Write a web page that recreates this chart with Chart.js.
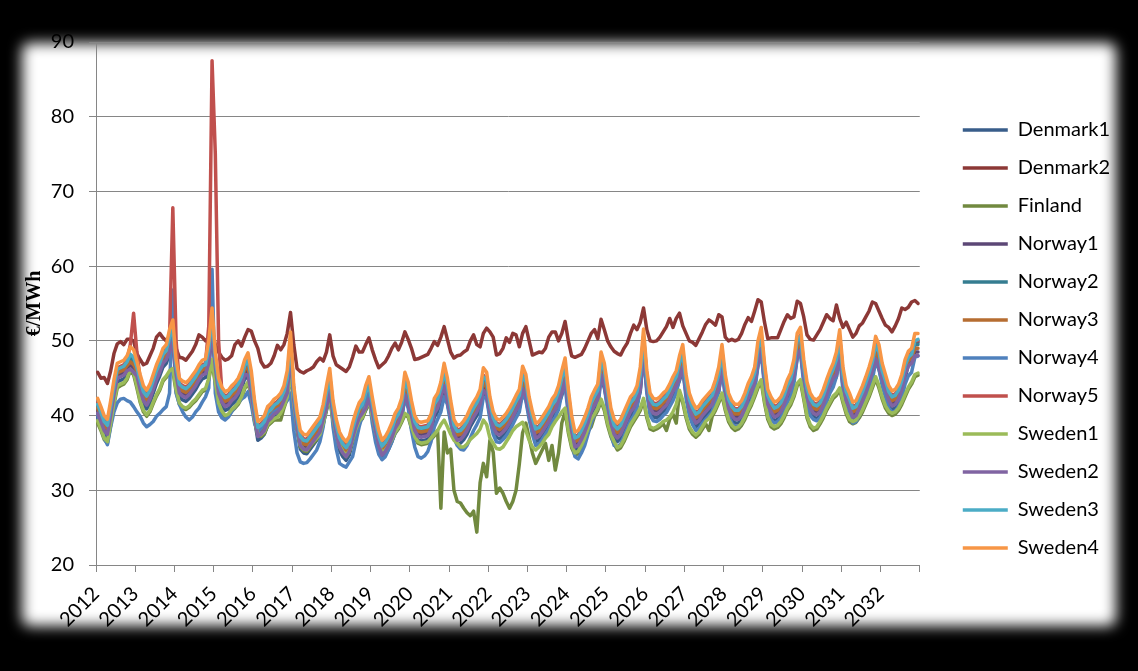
<!DOCTYPE html>
<html>
<head>
<meta charset="utf-8">
<script src="https://cdn.jsdelivr.net/npm/chart.js@4/dist/chart.umd.min.js"></script>
<style>
html,body{margin:0;padding:0;background:#000;overflow:hidden}
#wrap{position:relative;width:1138px;height:671px}
#frame{position:absolute;left:22px;top:43px;width:1094px;height:583px;background:#fff;filter:blur(7px);border-radius:8px}
#c{position:absolute;left:0;top:0}
</style>
</head>
<body>
<div id="wrap"><div id="frame"></div><canvas id="c" width="1138" height="671"></canvas></div>
<script>
const yearLabels = ['2012','2013','2014','2015','2016','2017','2018','2019','2020','2021','2022',
  '2023','2024','2025','2026','2027','2028','2029','2030','2031','2032'];

const seriesNames = ['Denmark1','Denmark2','Finland','Norway1','Norway2','Norway3',
  'Norway4','Norway5','Sweden1','Sweden2','Sweden3','Sweden4'];

const seriesColors = ['#385D8A','#8C3836','#71893F','#5C4776','#357D91','#B66D31',
  '#4F81BD','#C0504D','#9BBB59','#8064A2','#4BACC6','#F79646'];

// monthly prices, Jan 2012 - Dec 2032, one row per year
const denmark1 = [
39.8,38.7,37.5,37.0,39.5,42.3,44.5,44.7,44.9,45.5,45.9,45.5,
44.8,43.0,41.5,40.9,41.7,43.0,44.3,45.3,46.5,47.0,48.2,49.5,
45.0,42.5,42.1,41.9,42.3,42.9,43.5,44.3,44.9,45.1,46.7,51.1,
46.0,42.5,41.3,40.7,40.9,41.5,41.9,42.5,43.5,45.0,45.1,42.7,
39.5,36.7,37.0,37.5,38.7,39.1,39.7,40.0,40.5,41.5,42.7,47.9,
41.5,38.0,35.5,35.0,34.9,35.5,36.1,36.7,37.3,39.0,40.7,43.0,
39.5,37.0,35.3,34.5,34.0,34.7,36.5,38.0,39.2,39.8,40.7,41.9,
40.0,37.5,35.5,34.2,34.7,35.5,36.5,37.8,38.5,39.8,42.5,41.2,
39.5,37.5,36.7,36.6,36.7,36.8,37.7,39.8,40.5,42.0,43.7,41.7,
39.5,37.0,36.2,36.3,36.8,37.5,38.5,39.3,40.0,41.0,43.1,42.5,
40.0,38.0,37.1,36.9,37.3,37.8,38.5,39.3,40.2,41.0,43.3,42.2,
40.0,38.0,36.5,36.7,37.3,38.0,38.7,39.7,40.3,41.5,42.7,44.4,
41.0,37.5,35.3,35.5,36.3,37.3,38.5,40.0,40.9,41.7,45.2,43.7,
41.5,38.5,37.0,36.5,37.0,38.0,39.0,40.0,40.5,41.5,43.2,48.3,
43.5,40.5,39.8,39.7,40.0,40.5,40.9,41.7,42.7,43.5,44.7,46.2,
43.0,40.5,39.3,38.5,38.8,39.5,40.0,40.5,41.0,42.3,43.2,46.2,
43.0,40.5,39.5,39.0,39.0,39.5,40.5,41.8,42.7,44.0,46.7,48.5,
44.5,41.0,40.0,39.3,39.5,40.0,41.0,42.3,43.2,45.0,47.7,48.5,
45.0,42.0,40.5,39.8,39.6,40.0,41.0,42.3,43.5,44.5,45.2,48.2,
44.0,41.5,40.5,39.3,39.5,40.5,41.5,42.7,44.0,45.5,47.3,46.2,
44.5,43.0,41.5,40.8,41.0,41.7,43.0,45.0,46.8,47.5,49.5,49.8
];

const denmark2 = [
45.8,45.0,45.1,44.3,46.0,48.3,49.6,49.9,49.5,50.2,50.2,50.0,
48.3,47.5,46.8,47.0,48.0,49.0,50.5,51.0,50.4,50.0,50.5,51.5,
49.0,47.8,47.7,47.4,48.0,48.6,49.5,50.8,50.5,50.0,50.5,51.5,
49.5,48.5,47.8,47.4,47.6,48.0,49.5,50.0,49.3,50.5,51.5,51.3,
50.0,49.0,47.2,46.5,46.6,47.0,48.0,49.4,48.8,49.5,51.0,53.8,
49.5,46.3,45.9,45.7,46.0,46.2,46.5,47.2,47.7,47.3,48.5,50.8,
48.0,46.8,46.5,46.2,45.9,46.5,47.8,49.3,48.5,48.5,49.5,50.4,
48.8,47.5,46.4,46.8,47.2,48.0,49.0,49.7,48.8,49.8,51.2,50.2,
49.0,47.5,47.6,47.8,48.0,48.2,49.0,49.9,49.4,50.5,51.9,50.2,
48.5,47.7,48.0,48.1,48.5,48.8,50.0,50.8,49.5,49.2,51.0,51.7,
51.2,50.5,48.1,48.3,49.0,50.4,49.8,51.0,50.8,49.2,51.0,51.9,
50.0,48.1,48.3,48.5,48.4,49.0,50.5,51.2,51.2,50.0,51.0,52.6,
50.0,48.0,47.8,48.0,48.2,49.0,50.0,51.0,51.5,50.3,52.9,51.5,
50.0,49.2,48.6,48.3,48.1,49.0,49.7,51.0,52.1,51.5,52.5,54.4,
51.5,50.0,49.9,50.0,50.5,51.2,51.9,53.0,51.8,53.0,53.7,52.0,
51.0,50.0,49.8,49.4,50.3,51.2,52.2,52.8,52.5,52.1,53.5,53.2,
50.5,50.0,50.2,50.0,50.2,51.0,52.2,53.1,52.6,54.0,55.5,55.2,
52.5,50.3,50.4,50.4,50.4,51.5,52.6,53.5,53.0,53.2,55.3,55.0,
53.2,50.8,50.2,50.1,50.8,51.5,52.5,53.5,53.0,52.7,54.8,53.0,
51.8,52.5,51.5,50.5,51.0,52.0,52.4,53.2,54.0,55.2,55.0,54.0,
53.0,52.1,51.8,51.2,52.0,53.0,54.4,54.2,54.5,55.2,55.4,55.0
];

const finland = [
39.0,38.0,36.8,36.3,38.7,41.5,43.7,44.0,44.2,44.8,46.0,45.5,
43.7,41.8,40.5,39.9,40.5,41.6,42.6,43.4,44.6,45.1,45.8,46.0,
43.2,41.5,41.0,40.8,41.1,41.6,42.0,42.6,43.2,43.4,44.8,47.2,
44.2,41.5,40.4,39.8,40.0,40.6,41.0,41.5,42.3,43.6,44.3,42.8,
39.3,37.3,37.2,37.6,38.6,39.0,39.4,39.4,39.4,41.0,42.3,45.8,
41.3,38.3,35.8,35.3,35.2,35.8,36.3,36.8,37.3,38.8,40.8,42.3,
39.3,37.3,35.8,35.0,34.5,35.1,36.6,38.0,39.1,39.6,40.8,41.8,
39.8,37.8,36.0,34.8,35.2,35.8,36.6,37.6,38.2,39.1,40.1,39.8,
38.3,37.0,36.3,36.1,36.2,36.3,36.8,37.3,38.0,27.6,37.8,35.0,
35.5,30.0,28.5,28.3,27.6,27.0,26.6,27.2,24.4,31.0,33.6,31.8,
36.7,35.1,29.6,30.3,29.6,28.5,27.6,28.5,30.0,33.5,37.7,39.0,
37.0,35.0,33.6,34.5,35.4,36.3,34.0,36.0,32.7,35.0,39.0,40.5,
37.7,35.7,34.7,34.9,35.7,36.7,37.9,38.5,39.9,40.7,41.9,40.7,
38.7,37.2,36.2,35.4,35.7,36.5,37.5,38.5,39.2,39.9,40.7,42.0,
39.7,38.2,38.0,38.2,38.5,38.9,38.0,39.5,40.2,39.0,43.1,41.7,
39.7,38.2,37.5,37.1,37.5,38.2,38.9,38.0,39.9,40.7,41.7,42.7,
40.7,39.2,38.4,38.0,38.2,38.7,39.5,40.5,41.4,42.5,43.7,44.5,
41.7,39.5,38.5,38.2,38.4,38.9,39.7,40.7,41.4,42.5,44.0,44.5,
42.2,39.7,38.5,38.0,38.2,38.9,39.7,40.7,41.5,42.3,42.7,43.4,
41.7,40.2,39.2,38.9,39.1,39.7,40.5,41.5,42.5,43.7,44.9,43.7,
42.2,41.0,40.3,40.0,40.2,40.7,41.5,42.5,43.5,44.2,45.2,45.4
];

const norway1 = [
40.7,39.6,38.4,37.9,40.4,43.2,45.4,45.6,45.8,46.4,46.7,46.3,
45.7,43.9,42.4,41.8,42.6,43.9,45.2,46.2,47.4,47.9,49.0,50.3,
45.9,43.4,43.0,42.8,43.2,43.8,44.4,45.2,45.8,46.0,47.5,51.9,
46.9,43.4,42.2,41.6,41.8,42.4,42.8,43.4,44.4,45.9,45.9,43.5,
40.4,37.6,37.9,38.4,39.6,40.0,40.6,40.9,41.4,42.4,43.5,48.7,
42.4,38.9,36.4,35.9,35.8,36.4,37.0,37.6,38.2,39.9,41.5,43.8,
40.4,37.9,36.2,35.4,34.9,35.6,37.4,38.9,40.1,40.7,41.5,42.7,
40.9,38.4,36.4,35.1,35.6,36.4,37.4,38.7,39.4,40.7,43.3,42.0,
40.4,38.4,37.6,37.5,37.6,37.7,38.6,40.7,41.4,42.9,44.5,42.5,
40.4,37.9,37.1,37.2,37.7,38.4,39.4,40.2,40.9,41.9,43.9,43.3,
40.9,38.9,38.0,37.8,38.2,38.7,39.4,40.2,41.1,41.9,44.1,43.0,
40.9,38.9,37.4,37.6,38.2,38.9,39.6,40.6,41.2,42.4,43.5,45.2,
41.9,38.4,36.2,36.4,37.2,38.2,39.4,40.9,41.8,42.6,46.0,44.5,
42.4,39.4,37.9,37.4,37.9,38.9,39.9,40.9,41.4,42.4,44.0,49.1,
44.4,41.4,40.7,40.6,40.9,41.4,41.8,42.6,43.6,44.4,45.5,47.0,
43.9,41.4,40.2,39.4,39.7,40.4,40.9,41.4,41.9,43.2,44.0,47.0,
43.9,41.4,40.4,39.9,39.9,40.4,41.4,42.7,43.6,44.9,47.5,49.3,
45.4,41.9,40.9,40.2,40.4,40.9,41.9,43.2,44.1,45.9,48.5,49.3,
45.9,42.9,41.4,40.7,40.5,40.9,41.9,43.2,44.4,45.4,46.0,49.0,
44.9,42.4,41.4,40.2,40.4,41.4,42.4,43.6,44.9,46.4,48.1,47.0,
45.4,43.9,42.4,41.7,41.9,42.6,43.9,45.9,47.0,47.4,48.5,48.5
];

const norway2 = [
41.3,40.2,39.0,38.5,41.0,43.8,46.0,46.2,46.4,47.0,47.7,47.3,
46.3,44.5,43.0,42.4,43.2,44.5,45.8,46.8,48.0,48.5,50.0,51.3,
46.5,44.0,43.6,43.4,43.8,44.4,45.0,45.8,46.4,46.6,48.5,52.9,
47.5,44.0,42.8,42.2,42.4,43.0,43.4,44.0,45.0,46.5,46.9,44.5,
41.0,38.2,38.5,39.0,40.2,40.6,41.2,41.5,42.0,43.0,44.5,49.7,
43.0,39.5,37.0,36.5,36.4,37.0,37.6,38.2,38.8,40.5,42.5,44.8,
41.0,38.5,36.8,36.0,35.5,36.2,38.0,39.5,40.7,41.3,42.5,43.7,
41.5,39.0,37.0,35.7,36.2,37.0,38.0,39.3,40.0,41.3,44.3,43.0,
41.0,39.0,38.2,38.1,38.2,38.3,39.2,41.3,42.0,43.5,45.5,43.5,
41.0,38.5,37.7,37.8,38.3,39.0,40.0,40.8,41.5,42.5,44.9,44.3,
41.5,39.5,38.6,38.4,38.8,39.3,40.0,40.8,41.7,42.5,45.1,44.0,
41.5,39.5,38.0,38.2,38.8,39.5,40.2,41.2,41.8,43.0,44.5,46.2,
42.5,39.0,36.8,37.0,37.8,38.8,40.0,41.5,42.4,43.2,47.0,45.5,
43.0,40.0,38.5,38.0,38.5,39.5,40.5,41.5,42.0,43.0,45.0,50.1,
45.0,42.0,41.3,41.2,41.5,42.0,42.4,43.2,44.2,45.0,46.5,48.0,
44.5,42.0,40.8,40.0,40.3,41.0,41.5,42.0,42.5,43.8,45.0,48.0,
44.5,42.0,41.0,40.5,40.5,41.0,42.0,43.3,44.2,45.5,48.5,50.3,
46.0,42.5,41.5,40.8,41.0,41.5,42.5,43.8,44.7,46.5,49.5,50.3,
46.5,43.5,42.0,41.3,41.1,41.5,42.5,43.8,45.0,46.0,47.0,50.0,
45.5,43.0,42.0,40.8,41.0,42.0,43.0,44.2,45.5,47.0,49.1,48.0,
46.0,44.5,43.0,42.3,42.5,43.2,44.5,46.5,47.6,48.0,49.5,49.5
];

const norway3 = [
41.0,39.9,38.7,38.2,40.7,43.5,45.7,45.9,46.1,46.7,47.2,46.8,
46.0,44.2,42.7,42.1,42.9,44.2,45.5,46.5,47.7,48.2,49.5,50.8,
46.2,43.7,43.3,43.1,43.5,44.1,44.7,45.5,46.1,46.3,48.0,52.4,
47.2,43.7,42.5,41.9,42.1,42.7,43.1,43.7,44.7,46.2,46.4,44.0,
40.7,37.9,38.2,38.7,39.9,40.3,40.9,41.2,41.7,42.7,44.0,49.2,
42.7,39.2,36.7,36.2,36.1,36.7,37.3,37.9,38.5,40.2,42.0,44.3,
40.7,38.2,36.5,35.7,35.2,35.9,37.7,39.2,40.4,41.0,42.0,43.2,
41.2,38.7,36.7,35.4,35.9,36.7,37.7,39.0,39.7,41.0,43.8,42.5,
40.7,38.7,37.9,37.8,37.9,38.0,38.9,41.0,41.7,43.2,45.0,43.0,
40.7,38.2,37.4,37.5,38.0,38.7,39.7,40.5,41.2,42.2,44.4,43.8,
41.2,39.2,38.3,38.1,38.5,39.0,39.7,40.5,41.4,42.2,44.6,43.5,
41.2,39.2,37.7,37.9,38.5,39.2,39.9,40.9,41.5,42.7,44.0,45.7,
42.2,38.7,36.5,36.7,37.5,38.5,39.7,41.2,42.1,42.9,46.5,45.0,
42.7,39.7,38.2,37.7,38.2,39.2,40.2,41.2,41.7,42.7,44.5,49.6,
44.7,41.7,41.0,40.9,41.2,41.7,42.1,42.9,43.9,44.7,46.0,47.5,
44.2,41.7,40.5,39.7,40.0,40.7,41.2,41.7,42.2,43.5,44.5,47.5,
44.2,41.7,40.7,40.2,40.2,40.7,41.7,43.0,43.9,45.2,48.0,49.8,
45.7,42.2,41.2,40.5,40.7,41.2,42.2,43.5,44.4,46.2,49.0,49.8,
46.2,43.2,41.7,41.0,40.8,41.2,42.2,43.5,44.7,45.7,46.5,49.5,
45.2,42.7,41.7,40.5,40.7,41.7,42.7,43.9,45.2,46.7,48.6,47.5,
45.7,44.2,42.7,42.0,42.2,42.9,44.2,46.2,47.3,47.7,49.0,49.0
];

const norway4 = [
40.1,38.5,37.0,36.1,38.5,40.5,41.7,42.2,42.3,42.0,41.8,41.2,
40.5,39.9,39.0,38.5,38.8,39.2,39.9,40.3,40.8,41.2,43.0,56.8,
43.0,41.5,40.5,39.8,39.4,39.8,40.5,41.0,41.8,42.5,43.7,59.6,
43.0,40.5,39.7,39.4,39.8,40.5,41.2,41.8,42.2,42.5,43.2,41.5,
39.0,37.8,38.3,39.0,39.5,40.0,40.5,40.8,41.0,41.5,42.0,43.0,
38.0,35.0,33.8,33.6,33.7,34.2,34.8,35.4,36.5,38.5,41.5,43.9,
38.5,35.5,33.6,33.3,33.1,33.8,34.5,36.5,38.5,40.0,42.0,43.0,
39.0,36.5,34.8,34.1,34.5,35.5,36.5,37.7,38.5,39.5,42.5,41.0,
38.0,35.8,34.5,34.3,34.6,35.2,36.5,38.5,39.5,40.5,42.5,41.5,
39.0,37.0,36.0,35.5,35.4,36.0,37.0,38.0,38.8,39.7,42.5,42.3,
39.5,37.5,36.5,36.4,36.8,37.3,38.0,38.8,39.7,40.5,43.0,42.0,
39.5,37.5,36.0,36.2,36.8,37.5,38.2,39.2,39.8,40.8,43.0,44.0,
40.0,36.5,34.5,34.2,35.0,36.0,37.5,39.0,40.2,41.0,45.0,44.0,
40.5,37.5,36.0,35.8,36.2,37.2,38.3,39.3,40.0,41.0,43.5,48.3,
43.0,40.0,39.3,39.2,39.5,40.0,40.4,41.2,42.0,43.0,45.0,46.3,
42.3,40.0,38.8,38.0,38.3,39.0,39.5,40.0,40.5,41.8,43.3,46.3,
42.3,40.0,39.0,38.5,38.5,39.0,40.0,41.3,42.0,43.3,46.7,48.5,
43.8,40.5,39.5,39.0,39.2,39.7,40.5,41.8,42.5,44.3,47.7,48.5,
44.2,41.5,40.0,39.5,39.3,39.7,40.5,41.8,43.0,43.8,45.2,48.0,
43.3,41.0,40.0,39.0,39.2,40.0,41.0,42.2,43.5,44.8,47.2,46.3,
44.0,42.5,41.0,40.5,40.6,41.2,42.3,44.2,45.3,45.8,47.8,48.0
];

const norway5 = [
41.7,40.6,39.4,38.9,41.4,44.2,46.4,46.6,46.8,47.4,49.5,53.7,
48.5,44.9,43.4,42.8,43.6,44.9,46.2,47.2,48.4,48.9,50.5,67.8,
50.0,44.4,44.0,43.8,44.2,44.8,45.4,46.2,46.8,47.0,52.0,87.5,
75.0,50.0,43.2,42.6,42.8,43.4,43.8,44.4,45.4,46.9,47.4,45.0,
41.4,38.6,38.9,39.4,40.6,41.0,41.6,41.9,42.4,43.4,45.0,50.2,
43.4,39.9,37.4,36.9,36.8,37.4,38.0,38.6,39.2,40.9,43.0,45.3,
41.4,38.9,37.2,36.4,35.9,36.6,38.4,39.9,41.1,41.7,43.0,44.2,
41.9,39.4,37.4,36.1,36.6,37.4,38.4,39.7,40.4,41.7,44.8,43.5,
41.4,39.4,38.6,38.5,38.6,38.7,39.6,41.7,42.4,43.9,46.0,44.0,
41.4,38.9,38.1,38.2,38.7,39.4,40.4,41.2,41.9,42.9,45.4,44.8,
41.9,39.9,39.0,38.8,39.2,39.7,40.4,41.2,42.1,42.9,45.6,44.5,
41.9,39.9,38.4,38.6,39.2,39.9,40.6,41.6,42.2,43.4,45.0,46.7,
42.9,39.4,37.2,37.4,38.2,39.2,40.4,41.9,42.8,43.6,47.5,46.0,
43.4,40.4,38.9,38.4,38.9,39.9,40.9,41.9,42.4,43.4,45.5,50.6,
45.4,42.4,41.7,41.6,41.9,42.4,42.8,43.6,44.6,45.4,47.0,48.5,
44.9,42.4,41.2,40.4,40.7,41.4,41.9,42.4,42.9,44.2,45.5,48.5,
44.9,42.4,41.4,40.9,40.9,41.4,42.4,43.7,44.6,45.9,49.0,50.8,
46.4,42.9,41.9,41.2,41.4,41.9,42.9,44.2,45.1,46.9,50.0,50.8,
46.9,43.9,42.4,41.7,41.5,41.9,42.9,44.2,45.4,46.4,47.5,50.5,
45.9,43.4,42.4,41.2,41.4,42.4,43.4,44.6,45.9,47.4,49.6,48.5,
46.4,44.9,43.4,42.7,42.9,43.6,44.9,46.9,48.0,48.4,50.0,50.0
];

const sweden1 = [
39.3,38.2,37.0,36.5,39.0,41.8,44.0,44.2,44.4,45.0,46.2,45.8,
44.0,42.0,40.7,40.1,40.7,41.8,42.8,43.6,44.8,45.3,46.0,46.3,
43.5,41.7,41.2,41.0,41.3,41.8,42.2,42.8,43.4,43.6,45.0,47.5,
44.5,41.7,40.6,40.0,40.2,40.8,41.2,41.7,42.5,43.8,44.5,43.0,
39.5,37.5,37.4,37.8,38.8,39.2,39.6,39.8,40.3,41.2,42.5,46.0,
41.5,38.5,36.0,35.5,35.4,36.0,36.5,37.0,37.5,39.0,41.0,42.5,
39.5,37.5,36.0,35.2,34.7,35.3,36.8,38.2,39.3,39.8,41.0,42.0,
40.0,38.0,36.2,35.0,35.4,36.0,36.8,37.8,38.4,39.3,40.3,40.0,
38.5,37.2,36.5,36.3,36.4,36.5,37.0,37.5,38.0,38.8,39.4,38.5,
37.5,36.7,36.3,35.8,35.8,36.2,36.8,37.2,37.6,38.2,39.4,38.8,
37.0,36.3,35.6,35.5,35.8,36.5,37.2,38.0,38.5,38.8,39.1,38.0,
36.7,35.8,35.4,35.8,36.3,37.0,37.5,38.5,39.2,39.8,40.5,41.0,
38.0,36.0,35.0,35.2,36.0,37.0,38.2,39.5,40.2,41.0,42.2,41.0,
39.0,37.5,36.5,35.7,36.0,36.8,37.8,38.8,39.5,40.2,41.0,42.3,
40.0,38.5,38.3,38.5,38.8,39.2,39.4,39.8,40.5,41.5,43.4,42.0,
40.0,38.5,37.8,37.4,37.8,38.5,39.2,39.6,40.2,41.0,42.0,43.0,
41.0,39.5,38.7,38.3,38.5,39.0,39.8,40.8,41.7,42.8,44.0,44.8,
42.0,39.8,38.8,38.5,38.7,39.2,40.0,41.0,41.7,42.8,44.3,44.8,
42.5,40.0,38.8,38.3,38.5,39.2,40.0,41.0,41.8,42.6,43.0,43.7,
42.0,40.5,39.5,39.2,39.4,40.0,40.8,41.8,42.8,44.0,45.2,44.0,
42.5,41.3,40.6,40.3,40.5,41.0,41.8,42.8,43.8,44.5,45.5,45.7
];

const sweden2 = [
40.3,39.2,38.0,37.5,40.0,42.8,45.0,45.2,45.4,46.0,46.2,45.8,
45.3,43.5,42.0,41.4,42.2,43.5,44.8,45.8,47.0,47.5,48.5,49.8,
45.5,43.0,42.6,42.4,42.8,43.4,44.0,44.8,45.4,45.6,47.0,51.4,
46.5,43.0,41.8,41.2,41.4,42.0,42.4,43.0,44.0,45.5,45.4,43.0,
40.0,37.2,37.5,38.0,39.2,39.6,40.2,40.5,41.0,42.0,43.0,48.2,
42.0,38.5,36.0,35.5,35.4,36.0,36.6,37.2,37.8,39.5,41.0,43.3,
40.0,37.5,35.8,35.0,34.5,35.2,37.0,38.5,39.7,40.3,41.0,42.2,
40.5,38.0,36.0,34.7,35.2,36.0,37.0,38.3,39.0,40.3,42.8,41.5,
40.0,38.0,37.2,37.1,37.2,37.3,38.2,40.3,41.0,42.5,44.0,42.0,
40.0,37.5,36.7,36.8,37.3,38.0,39.0,39.8,40.5,41.5,43.4,42.8,
40.5,38.5,37.6,37.4,37.8,38.3,39.0,39.8,40.7,41.5,43.6,42.5,
40.5,38.5,37.0,37.2,37.8,38.5,39.2,40.2,40.8,42.0,43.0,44.7,
41.5,38.0,35.8,36.0,36.8,37.8,39.0,40.5,41.4,42.2,45.5,44.0,
42.0,39.0,37.5,37.0,37.5,38.5,39.5,40.5,41.0,42.0,43.5,48.6,
44.0,41.0,40.3,40.2,40.5,41.0,41.4,42.2,43.2,44.0,45.0,46.5,
43.5,41.0,39.8,39.0,39.3,40.0,40.5,41.0,41.5,42.8,43.5,46.5,
43.5,41.0,40.0,39.5,39.5,40.0,41.0,42.3,43.2,44.5,47.0,48.8,
45.0,41.5,40.5,39.8,40.0,40.5,41.5,42.8,43.7,45.5,48.0,48.8,
45.5,42.5,41.0,40.3,40.1,40.5,41.5,42.8,44.0,45.0,45.5,48.5,
44.5,42.0,41.0,39.8,40.0,41.0,42.0,43.2,44.5,46.0,47.6,46.5,
45.0,43.5,42.0,41.3,41.5,42.2,43.5,45.5,46.6,47.0,48.0,48.0
];

const sweden3 = [
41.5,40.4,39.2,38.7,41.2,44.0,46.2,46.4,46.6,47.2,48.2,47.8,
46.5,44.7,43.2,42.6,43.4,44.7,46.0,47.0,48.2,48.7,50.5,51.6,
46.7,44.2,43.8,43.6,44.0,44.6,45.2,46.0,46.6,46.8,49.0,53.2,
47.7,44.2,43.0,42.4,42.6,43.2,43.6,44.2,45.2,46.7,47.4,45.2,
41.2,38.4,38.7,39.2,40.4,40.8,41.4,41.7,42.2,43.2,45.0,50.0,
43.2,39.7,37.2,36.7,36.6,37.2,37.8,38.4,39.0,40.7,43.0,45.1,
41.2,38.7,37.0,36.2,35.7,36.4,38.2,39.7,40.9,41.5,43.0,44.0,
41.7,39.2,37.2,35.9,36.4,37.2,38.2,39.5,40.2,41.5,44.6,43.5,
41.2,39.2,38.4,38.3,38.4,38.5,39.4,41.5,42.2,43.7,45.8,44.0,
41.2,38.7,37.9,38.0,38.5,39.2,40.2,41.0,41.7,42.7,45.2,44.8,
41.7,39.7,38.8,38.6,39.0,39.5,40.2,41.0,41.9,42.7,45.4,44.5,
41.7,39.7,38.2,38.4,39.0,39.7,40.4,41.4,42.0,43.2,45.0,46.5,
42.7,39.2,37.0,37.2,38.0,39.0,40.2,41.7,42.6,43.4,47.3,46.0,
43.2,40.2,38.7,38.2,38.7,39.7,40.7,41.7,42.2,43.2,45.5,50.4,
45.0,42.2,41.5,41.4,41.7,42.2,42.6,43.4,44.4,45.2,47.0,48.3,
44.5,42.2,41.0,40.2,40.5,41.2,41.7,42.2,42.7,44.0,45.5,48.3,
44.5,42.2,41.2,40.7,40.7,41.2,42.2,43.5,44.4,45.7,49.0,50.6,
46.0,42.7,41.7,41.0,41.2,41.7,42.7,44.0,44.9,46.7,50.0,50.6,
46.5,43.7,42.2,41.5,41.3,41.7,42.7,44.0,45.2,46.2,47.5,50.3,
45.5,43.2,42.2,41.0,41.2,42.2,43.2,44.4,45.7,47.2,49.4,48.5,
46.0,44.7,43.2,42.5,42.7,43.4,44.7,46.7,47.8,48.2,50.0,50.2
];

const sweden4 = [
42.3,41.2,40.0,39.5,42.0,44.8,47.0,47.2,47.4,48.0,49.2,48.8,
47.3,45.5,44.0,43.4,44.2,45.5,46.8,47.8,49.0,49.5,51.5,52.8,
47.5,45.0,44.6,44.4,44.8,45.4,46.0,46.8,47.4,47.6,50.0,54.4,
48.5,45.0,43.8,43.2,43.4,44.0,44.4,45.0,46.0,47.5,48.4,46.0,
42.0,39.2,39.5,40.0,41.2,41.6,42.2,42.5,43.0,44.0,46.0,51.2,
44.0,40.5,38.0,37.5,37.4,38.0,38.6,39.2,39.8,41.5,44.0,46.3,
42.0,39.5,37.8,37.0,36.5,37.2,39.0,40.5,41.7,42.3,44.0,45.2,
42.5,40.0,38.0,36.7,37.2,38.0,39.0,40.3,41.0,42.3,45.8,44.5,
42.0,40.0,39.2,39.1,39.2,39.3,40.2,42.3,43.0,44.5,47.0,45.0,
42.0,39.5,38.7,38.8,39.3,40.0,41.0,41.8,42.5,43.5,46.4,45.8,
42.5,40.5,39.6,39.4,39.8,40.3,41.0,41.8,42.7,43.5,46.6,45.5,
42.5,40.5,39.0,39.2,39.8,40.5,41.2,42.2,42.8,44.0,46.0,47.7,
43.5,40.0,37.8,38.0,38.8,39.8,41.0,42.5,43.4,44.2,48.5,47.0,
44.0,41.0,39.5,39.0,39.5,40.5,41.5,42.5,43.0,44.0,46.5,51.6,
46.0,43.0,42.3,42.2,42.5,43.0,43.4,44.2,45.2,46.0,48.0,49.5,
45.5,43.0,41.8,41.0,41.3,42.0,42.5,43.0,43.5,44.8,46.5,49.5,
45.5,43.0,42.0,41.5,41.5,42.0,43.0,44.3,45.2,46.5,50.0,51.8,
47.0,43.5,42.5,41.8,42.0,42.5,43.5,44.8,45.7,47.5,51.0,51.8,
47.5,44.5,43.0,42.3,42.1,42.5,43.5,44.8,46.0,47.0,48.5,51.5,
46.5,44.0,43.0,41.8,42.0,43.0,44.0,45.2,46.5,48.0,50.6,49.5,
47.0,45.5,44.0,43.3,43.5,44.2,45.5,47.5,48.6,49.0,51.0,51.0
];

const seriesValues = [denmark1, denmark2, finland, norway1, norway2, norway3,
  norway4, norway5, sweden1, sweden2, sweden3, sweden4];

const monthsPerYear = 12;
const totalMonths = yearLabels.length * monthsPerYear;

// Excel draws later series on top, so give them a lower order
const datasets = seriesNames.map((name, k) => ({
  label: name,
  data: seriesValues[k].map((v, i) => ({x: i + 0.5, y: v})),
  borderColor: seriesColors[k],
  backgroundColor: seriesColors[k],
  borderWidth: 3.5,
  borderJoinStyle: 'round',
  borderCapStyle: 'round',
  pointRadius: 0,
  pointHoverRadius: 0,
  tension: 0,
  order: seriesNames.length - k
}));

const axisGray = '#868686';
const textFont = {family: 'Lato', size: 20};

new Chart(document.getElementById('c'), {
  type: 'line',
  data: {datasets: datasets},
  options: {
    responsive: false,
    animation: false,
    devicePixelRatio: 1,
    layout: {padding: {left: 15, top: 42, right: 18, bottom: 35}},
    plugins: {
      tooltip: {enabled: false},
      legend: {
        position: 'right',
        labels: {
          usePointStyle: true,
          pointStyle: 'line',
          pointStyleWidth: 45,
          padding: 18,
          color: '#000',
          font: textFont,
          sort: (a, b) => a.datasetIndex - b.datasetIndex
        }
      }
    },
    scales: {
      x: {
        type: 'linear',
        min: 0,
        max: totalMonths,
        grid: {display: true, drawOnChartArea: false, drawTicks: true, tickLength: 7, color: axisGray},
        border: {display: true, color: axisGray, width: 1},
        ticks: {
          stepSize: monthsPerYear,
          autoSkip: false,
          minRotation: 45,
          maxRotation: 45,
          padding: 10,
          color: '#000',
          font: textFont,
          callback: v => yearLabels[v / monthsPerYear] || ''
        },
        afterFit: s => { s.height = 71; }
      },
      y: {
        min: 20,
        max: 90,
        grid: {color: axisGray, tickLength: 7},
        border: {display: true, color: axisGray, width: 1},
        ticks: {stepSize: 10, padding: 15, color: '#000', font: textFont},
        title: {
          display: true,
          text: '€/MWh',
          color: '#000',
          padding: {top: 8, bottom: 0},
          font: {family: 'Liberation Serif', size: 20, weight: 'bold'}
        },
        afterFit: s => { s.width = 81; }
      },
      gap: {
        type: 'linear',
        position: 'right',
        display: true,
        grid: {display: false, drawTicks: false},
        border: {display: false},
        ticks: {display: false},
        afterFit: s => { s.width = 25; }
      }
    }
  }
});
</script>
</body>
</html>
